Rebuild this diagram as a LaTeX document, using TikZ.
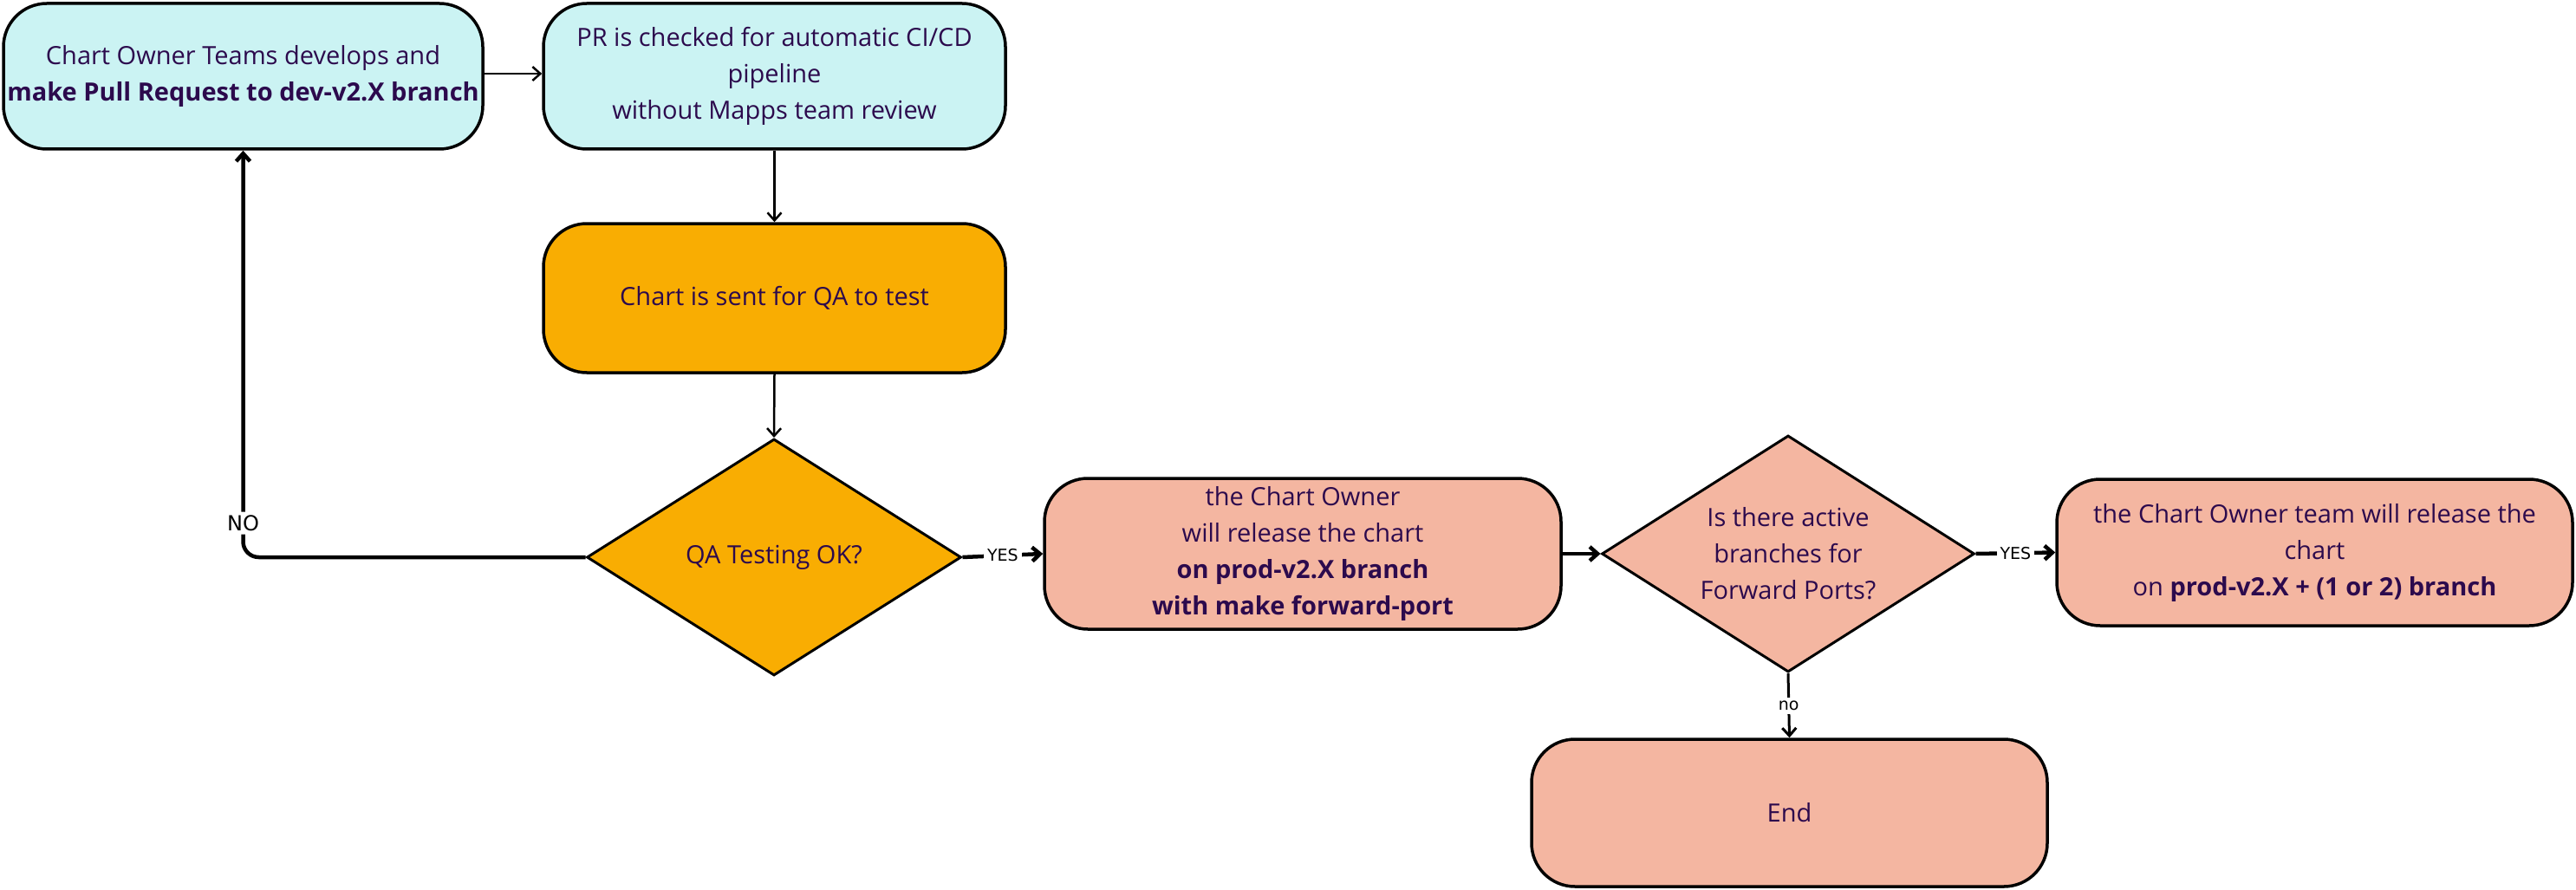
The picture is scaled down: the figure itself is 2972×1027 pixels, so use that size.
\documentclass[tikz,border=0pt]{standalone}
\usepackage{fontspec}
\setmainfont{Open Sans}
\newfontfamily\lblfont{DejaVu Sans}
\usetikzlibrary{shapes.geometric,arrows.meta}
\definecolor{txt}{HTML}{2C0A4D}
\definecolor{cyanbox}{HTML}{CBF3F3}
\definecolor{orangebox}{HTML}{F9AD02}
\definecolor{salmonbox}{HTML}{F4B6A1}
\begin{document}
\begin{tikzpicture}[x=1pt,y=-1pt,
  box/.style={draw=black, line width=3.5pt, rounded corners=50pt, align=center,
    text=txt, font=\fontsize{29}{42}\selectfont, inner sep=0pt},
  dia/.style={diamond, draw=black, line width=3pt, inner sep=0pt},
  diatext/.style={align=center, text=txt, font=\fontsize{29}{42}\selectfont},
  thinconn/.style={line width=2.5pt, -{Straight Barb[length=9pt,width=16pt]}},
  thickconn/.style={line width=4.5pt, -{Straight Barb[length=9pt,width=16pt]}},
  lbl/.style={fill=white, inner sep=4pt, font=\lblfont\fontsize{19}{19}\selectfont, text=black},
  biglbl/.style={lbl, font=\lblfont\fontsize{24}{24}\selectfont}
]
\useasboundingbox (0,0) rectangle (2972,1027);

\node[box, fill=cyanbox, minimum width=553pt, minimum height=168pt] (b1) at (280.5,88)
  {Chart Owner Teams develops and\\\textbf{make Pull Request to dev-v2.X branch}};
\node[box, fill=cyanbox, minimum width=533pt, minimum height=168pt] (b2) at (893.5,88)
  {PR is checked for automatic CI/CD\\pipeline\\without Mapps team review};
\node[box, fill=orangebox, minimum width=533pt, minimum height=172pt] (b3) at (893.5,344)
  {Chart is sent for QA to test};
\node[dia, fill=orangebox, minimum width=432pt, minimum height=273pt,
  label={[diatext]center:QA Testing OK?}] (d1) at (893,643) {};
\node[box, fill=salmonbox, minimum width=596pt, minimum height=174pt] (b4) at (1503,639)
  {the Chart Owner\\will release the chart\\\textbf{on prod-v2.X branch}\\\textbf{with make forward-port}};
\node[dia, fill=salmonbox, minimum width=430pt, minimum height=273pt,
  label={[diatext]center:Is there active\\branches for\\Forward Ports?}] (d2) at (2063,639) {};
\node[box, fill=salmonbox, minimum width=595pt, minimum height=169pt] (b5) at (2670.5,637.5)
  {the Chart Owner team will release the\\chart\\on \textbf{prod-v2.X + (1 or 2) branch}};
\node[box, fill=salmonbox, minimum width=595pt, minimum height=170pt] (e) at (2064.5,938)
  {End};

\draw[thinconn] (b1.east |- 0,85) -- (b2.west |- 0,85);
\draw[thinconn] (b2.south) -- (b3.north);
\draw[thinconn] (b3.south) -- (d1.north);
\draw[thickconn, rounded corners=18pt] (d1.west) -| node[biglbl, pos=0.542] {NO} (b1.south);
\draw[thickconn] (d1.east) -- node[lbl] {YES} (b4.west);
\draw[thickconn] (b4.east) -- (d2.west);
\draw[thickconn] (d2.east) -- node[lbl] {YES} (b5.west);
\draw[thinconn, line width=3pt] (d2.south) -- node[lbl] {no} (e.north);
\end{tikzpicture}
\end{document}
